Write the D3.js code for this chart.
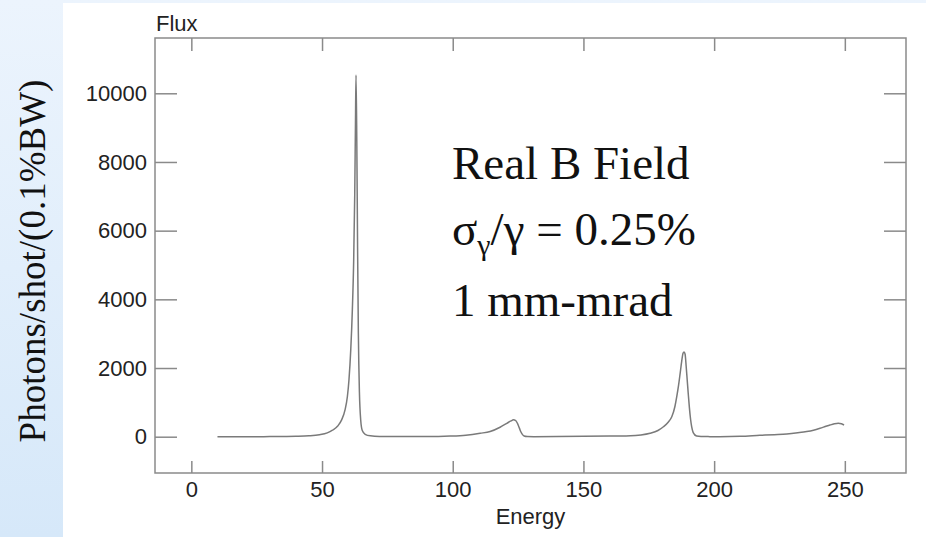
<!DOCTYPE html>
<html>
<head>
<meta charset="utf-8">
<script src="https://cdn.jsdelivr.net/npm/d3@7"></script>
<style>
  html, body { margin: 0; padding: 0; background: #fff; }
  svg { display: block; }
</style>
</head>
<body>
<svg id="chart" width="926" height="537"></svg>
<script>
// Undulator spectrum: photon flux versus photon energy
const energy = [10, 20, 30, 40, 45, 49, 52, 54, 56, 57.5, 58.8, 59.7, 60.3, 61.0, 61.6, 62.1, 62.5, 62.8, 63.0,
  63.3, 63.6, 63.9, 64.3, 64.8, 65.4, 66.5, 68.5, 72, 80, 90, 99, 105, 110.5, 114.3, 118.1, 120.7, 122.3,
  123.2, 124.1, 124.8, 125.5, 126.0, 126.7, 127.3, 128.5, 131, 140, 150, 160, 168, 172, 175.5, 178.5, 180.6,
  182.5, 183.8, 185.0, 185.7, 186.4, 187.0, 187.6, 188.1, 188.5, 188.9, 189.3, 189.7, 190.1, 190.5, 191.0,
  191.4, 192.0, 193.3, 195, 198.4, 202, 210, 217.5, 223, 227.8, 232, 235.4, 238, 240.5, 242.5, 244.3, 246,
  247.5, 248.7, 249.7];
const flux = [0, 0, 3, 12, 25, 55, 110, 190, 310, 490, 780, 1170, 1650, 2550, 3700, 5100, 7000, 9200, 10530,
  8600, 5500, 3000, 1300, 480, 180, 70, 25, 8, 3, 3, 18, 45, 100, 150, 275, 390, 460,
  490, 470, 380, 250, 150, 60, 20, 5, 2, 5, 12, 20, 25, 50, 100, 180, 290,
  430, 580, 880, 1165, 1500, 1845, 2200, 2430, 2470, 2400, 2050, 1650, 1250, 875, 500,
  290, 120, 20, 6, 2, 0, 10, 40, 60, 80, 115, 150, 190, 245, 295, 340, 375,
  390, 375, 340];

const xTicks = [0, 50, 100, 150, 200, 250];
const yTicks = [0, 2000, 4000, 6000, 8000, 10000];
const xDomain = [-13.9, 273.4];
const yDomain = [-1057, 11610];

const notes = ["Real B Field", "1 mm-mrad"];

const svg = d3.select("#chart");
const W = 926, H = 537;
const plot = { left: 155, right: 906, top: 38, bottom: 473 };

// backdrop: pale blue band with a white panel
const defs = svg.append("defs");
const grad = defs.append("linearGradient").attr("id", "bg").attr("x1", 0).attr("y1", 0).attr("x2", 0).attr("y2", 1);
grad.append("stop").attr("offset", "0%").attr("stop-color", "#ecf4fd");
grad.append("stop").attr("offset", "100%").attr("stop-color", "#d6e8f9");
svg.append("rect").attr("width", W).attr("height", H).attr("fill", "url(#bg)");
svg.append("rect").attr("x", 63).attr("y", 3).attr("width", W - 63).attr("height", H - 3).attr("fill", "#fff");

const x = d3.scaleLinear().domain(xDomain).range([plot.left, plot.right]);
const y = d3.scaleLinear().domain(yDomain).range([plot.bottom, plot.top]);

const axisColor = "#8a8a8a";
const sans = "'Liberation Sans', Arial, Helvetica, sans-serif";
const serif = "'Liberation Serif', 'Times New Roman', serif";
const fmt = d3.format("d");

function styleAxis(g) {
  g.select(".domain").remove();
  g.selectAll(".tick line").attr("stroke", axisColor).attr("stroke-width", 1.5);
  g.selectAll(".tick text").attr("fill", "#222").attr("font-size", 22).attr("font-family", sans);
}

svg.append("g").attr("transform", `translate(0,${plot.bottom})`)
  .call(d3.axisBottom(x).tickValues(xTicks).tickFormat(fmt).tickSize(-12).tickPadding(8).tickSizeOuter(0))
  .call(styleAxis);
svg.append("g").attr("transform", `translate(0,${plot.top})`)
  .call(d3.axisTop(x).tickValues(xTicks).tickSize(-13).tickFormat("").tickSizeOuter(0))
  .call(styleAxis);
svg.append("g").attr("transform", `translate(${plot.left},0)`)
  .call(d3.axisLeft(y).tickValues(yTicks).tickFormat(fmt).tickSize(-22).tickPadding(8).tickSizeOuter(0))
  .call(styleAxis);
svg.append("g").attr("transform", `translate(${plot.right},0)`)
  .call(d3.axisRight(y).tickValues(yTicks).tickSize(-22).tickFormat("").tickSizeOuter(0))
  .call(styleAxis);

// plot frame
svg.append("rect")
  .attr("x", plot.left).attr("y", plot.top)
  .attr("width", plot.right - plot.left).attr("height", plot.bottom - plot.top)
  .attr("fill", "none").attr("stroke", axisColor).attr("stroke-width", 1.5);

// spectrum curve
const pts = energy.map((e, i) => [e, flux[i]]);
const line = d3.line().x(d => x(d[0])).y(d => y(d[1])).curve(d3.curveMonotoneX);
svg.append("path").datum(pts)
  .attr("d", line)
  .attr("fill", "none").attr("stroke", "#7a7a7a").attr("stroke-width", 1.5)
  .attr("stroke-linejoin", "round");

// axis titles
svg.append("text").attr("x", plot.left + 1).attr("y", 30.5)
  .attr("font-family", sans).attr("font-size", 22).attr("fill", "#222").text("Flux");
svg.append("text").attr("x", (plot.left + plot.right) / 2).attr("y", 524)
  .attr("text-anchor", "middle")
  .attr("font-family", sans).attr("font-size", 22).attr("fill", "#222").text("Energy");
svg.append("text")
  .attr("transform", "translate(45,261) rotate(-90)")
  .attr("text-anchor", "middle")
  .attr("font-family", serif).attr("font-size", 37).attr("fill", "#111")
  .text("Photons/shot/(0.1%BW)");

// beam parameter notes
const noteX = 452;
svg.append("text").attr("x", noteX).attr("y", 179)
  .attr("font-family", serif).attr("font-size", 47).attr("fill", "#111").text(notes[0]);
const sig = svg.append("text").attr("x", noteX).attr("y", 245)
  .attr("font-family", serif).attr("font-size", 47).attr("fill", "#111");
sig.append("tspan").text("σ");
sig.append("tspan").attr("font-size", 30).attr("dy", 10).text("γ");
sig.append("tspan").attr("dy", -10).text("/γ = 0.25%");
svg.append("text").attr("x", noteX).attr("y", 316)
  .attr("font-family", serif).attr("font-size", 47).attr("fill", "#111").text(notes[1]);
</script>
</body>
</html>
